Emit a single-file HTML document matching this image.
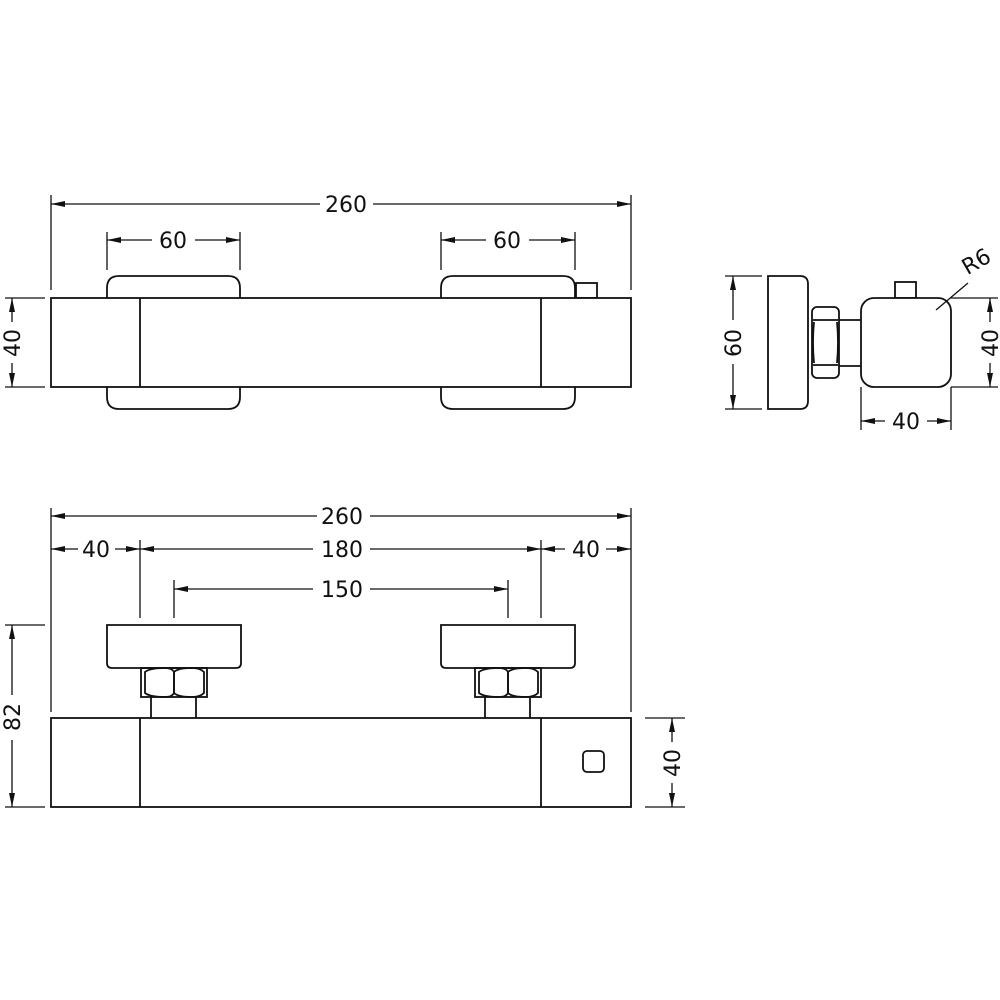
<!DOCTYPE html>
<html><head><style>html,body{margin:0;padding:0;background:#fff}svg{display:block}
text{font-family:"DejaVu Sans","Liberation Sans",sans-serif;font-size:22px;fill:#111}</style></head>
<body>
<svg width="1000" height="1000" viewBox="0 0 1000 1000" xmlns="http://www.w3.org/2000/svg">
<defs>
<marker id="a" viewBox="0 0 14 6" refX="14" refY="3" markerWidth="14" markerHeight="6" markerUnits="userSpaceOnUse" orient="auto-start-reverse"><path d="M0,0 L14,3 L0,6 z" fill="#111"/></marker>
</defs>
<g fill="none" stroke="#111" stroke-width="1.8">
<!-- TOP VIEW -->
<path d="M107,298 V288 Q107,276 119,276 H228 Q240,276 240,288 V298"/>
<path d="M107,387 V397 Q107,409 119,409 H228 Q240,409 240,397 V387"/>
<path d="M441,298 V288 Q441,276 453,276 H563 Q575,276 575,288 V298"/>
<path d="M441,387 V397 Q441,409 453,409 H563 Q575,409 575,397 V387"/>
<rect x="576" y="283" width="21" height="15"/>
<rect x="51" y="298" width="580" height="89" fill="#fff"/>
<line x1="140" y1="298" x2="140" y2="387"/><line x1="541" y1="298" x2="541" y2="387"/>
<!-- dims top -->
<g stroke-width="1.3">
<line x1="51" y1="195" x2="51" y2="290"/><line x1="631" y1="195" x2="631" y2="290"/>
<line x1="51" y1="204" x2="320" y2="204" marker-start="url(#a)"/><line x1="373" y1="204" x2="631" y2="204" marker-end="url(#a)"/>
<line x1="107" y1="232" x2="107" y2="270"/><line x1="240" y1="232" x2="240" y2="270"/>
<line x1="107" y1="240" x2="152" y2="240" marker-start="url(#a)"/><line x1="195" y1="240" x2="240" y2="240" marker-end="url(#a)"/>
<line x1="441" y1="232" x2="441" y2="270"/><line x1="575" y1="232" x2="575" y2="270"/>
<line x1="441" y1="240" x2="486" y2="240" marker-start="url(#a)"/><line x1="529" y1="240" x2="575" y2="240" marker-end="url(#a)"/>
<line x1="5" y1="298" x2="45" y2="298"/><line x1="5" y1="387" x2="45" y2="387"/>
<line x1="12" y1="298" x2="12" y2="322" marker-start="url(#a)"/><line x1="12" y1="363" x2="12" y2="387" marker-end="url(#a)"/>
</g>
<!-- SIDE VIEW -->
<path d="M768,276 H800 Q808,276 808,284 V401 Q808,409 800,409 H768 Z"/>
<rect x="812" y="307" width="27" height="71" rx="5"/>
<line x1="813" y1="320" x2="838" y2="320"/><line x1="813" y1="365" x2="838" y2="365"/>
<path d="M814,322 Q812,342 814,363 M837,322 Q839,342 837,363"/>
<line x1="839" y1="320" x2="862" y2="320"/><line x1="839" y1="366" x2="862" y2="366"/>
<rect x="895" y="282" width="21" height="16"/>
<rect x="861" y="298" width="90" height="89" rx="13" fill="#fff"/>
<g stroke-width="1.3">
<line x1="936" y1="310" x2="968" y2="283"/>
<line x1="725" y1="276" x2="762" y2="276"/><line x1="725" y1="409" x2="762" y2="409"/>
<line x1="733" y1="276" x2="733" y2="320" marker-start="url(#a)"/><line x1="733" y1="364" x2="733" y2="409" marker-end="url(#a)"/>
<line x1="951" y1="298" x2="998" y2="298"/><line x1="951" y1="387" x2="998" y2="387"/>
<line x1="990" y1="298" x2="990" y2="322" marker-start="url(#a)"/><line x1="990" y1="363" x2="990" y2="387" marker-end="url(#a)"/>
<line x1="861" y1="387" x2="861" y2="430"/><line x1="951" y1="387" x2="951" y2="430"/>
<line x1="861" y1="421" x2="885" y2="421" marker-start="url(#a)"/><line x1="927" y1="421" x2="951" y2="421" marker-end="url(#a)"/>
</g>
<!-- FRONT VIEW -->
<path d="M107,625 H241 V663 Q241,668 236,668 H112 Q107,668 107,663 Z"/>
<path d="M441,625 H575 V663 Q575,668 570,668 H446 Q441,668 441,663 Z"/>
<g>
<rect x="141" y="668" width="66" height="29"/>
<path d="M145,672 Q150,668 165,668 Q172,668 174,672 V693 Q172,697 165,697 Q150,697 145,693 Z"/>
<path d="M174,672 Q178,668 192,668 Q200,668 204,672 V693 Q200,697 192,697 Q178,697 174,693 Z"/>
<line x1="151" y1="697" x2="151" y2="718"/><line x1="196" y1="697" x2="196" y2="718"/>
</g>
<g transform="translate(334,0)">
<rect x="141" y="668" width="66" height="29"/>
<path d="M145,672 Q150,668 165,668 Q172,668 174,672 V693 Q172,697 165,697 Q150,697 145,693 Z"/>
<path d="M174,672 Q178,668 192,668 Q200,668 204,672 V693 Q200,697 192,697 Q178,697 174,693 Z"/>
<line x1="151" y1="697" x2="151" y2="718"/><line x1="196" y1="697" x2="196" y2="718"/>
</g>
<rect x="51" y="718" width="580" height="89"/>
<line x1="140" y1="718" x2="140" y2="807"/><line x1="541" y1="718" x2="541" y2="807"/>
<rect x="583" y="751" width="21" height="21" rx="4"/>
<g stroke-width="1.3">
<line x1="51" y1="508" x2="51" y2="712"/><line x1="631" y1="508" x2="631" y2="712"/>
<line x1="51" y1="516" x2="317" y2="516" marker-start="url(#a)"/><line x1="370" y1="516" x2="631" y2="516" marker-end="url(#a)"/>
<line x1="140" y1="540" x2="140" y2="618"/><line x1="541" y1="540" x2="541" y2="618"/>
<line x1="51" y1="549" x2="78" y2="549" marker-start="url(#a)"/><line x1="115" y1="549" x2="140" y2="549" marker-end="url(#a)"/>
<line x1="140" y1="549" x2="313" y2="549" marker-start="url(#a)"/><line x1="370" y1="549" x2="541" y2="549" marker-end="url(#a)"/>
<line x1="541" y1="549" x2="565" y2="549" marker-start="url(#a)"/><line x1="606" y1="549" x2="631" y2="549" marker-end="url(#a)"/>
<line x1="174" y1="580" x2="174" y2="618"/><line x1="508" y1="580" x2="508" y2="618"/>
<line x1="174" y1="589" x2="313" y2="589" marker-start="url(#a)"/><line x1="370" y1="589" x2="508" y2="589" marker-end="url(#a)"/>
<line x1="5" y1="625" x2="45" y2="625"/><line x1="5" y1="807" x2="45" y2="807"/>
<line x1="12" y1="625" x2="12" y2="695" marker-start="url(#a)"/><line x1="12" y1="740" x2="12" y2="807" marker-end="url(#a)"/>
<line x1="645" y1="718" x2="685" y2="718"/><line x1="645" y1="807" x2="685" y2="807"/>
<line x1="672" y1="718" x2="672" y2="742" marker-start="url(#a)"/><line x1="672" y1="783" x2="672" y2="807" marker-end="url(#a)"/>
</g>
</g>
<text x="346" y="212" text-anchor="middle">260</text>
<text x="173" y="248" text-anchor="middle">60</text>
<text x="507" y="248" text-anchor="middle">60</text>
<text transform="translate(20,343) rotate(-90)" text-anchor="middle">40</text>
<text transform="translate(741,343) rotate(-90)" text-anchor="middle">60</text>
<text transform="translate(998,343) rotate(-90)" text-anchor="middle">40</text>
<text x="906" y="429" text-anchor="middle">40</text>
<text transform="translate(980,268) rotate(-30)" text-anchor="middle">R6</text>
<text x="342" y="524" text-anchor="middle">260</text>
<text x="96" y="557" text-anchor="middle">40</text>
<text x="342" y="557" text-anchor="middle">180</text>
<text x="586" y="557" text-anchor="middle">40</text>
<text x="342" y="597" text-anchor="middle">150</text>
<text transform="translate(20,717) rotate(-90)" text-anchor="middle">82</text>
<text transform="translate(680,763) rotate(-90)" text-anchor="middle">40</text>
</svg>
</body></html>
